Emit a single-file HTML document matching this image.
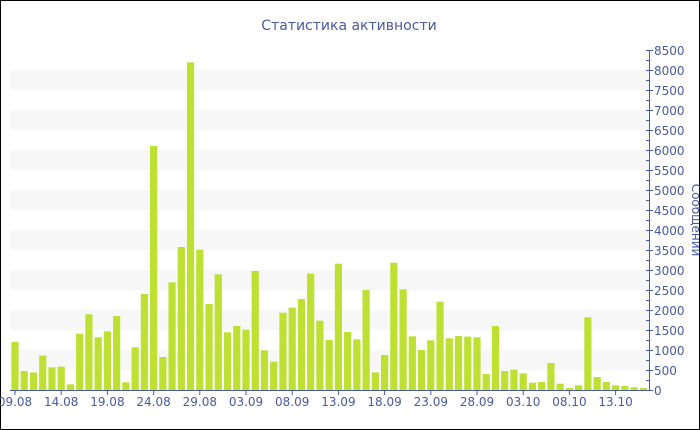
<!DOCTYPE html>
<html><head><meta charset="utf-8"><style>
html,body{margin:0;padding:0;background:#fff}
svg{display:block}
text{font-family:"DejaVu Sans","Liberation Sans",sans-serif;fill:#4a5a9e}
</style></head><body>
<svg width="700" height="430" viewBox="0 0 700 430" xmlns="http://www.w3.org/2000/svg">
<rect x="0.5" y="0.5" width="699" height="429" fill="#fff" stroke="#000"/>
<text x="349" y="30" font-size="14" text-anchor="middle">Статистика активности</text>
<g id="bands" fill="#f7f7f7"></g>
<g id="bars" fill="#bde033"></g>
<g id="axes" stroke="#4a5a9e" stroke-width="1"></g>
<g id="ylab" font-size="12"></g>
<g id="xlab" font-size="12" text-anchor="middle"></g>
<text transform="translate(692,220) rotate(90)" font-size="12" text-anchor="middle">Сообщений</text>
</svg>
<script>
const ns="http://www.w3.org/2000/svg";
function el(p,t,a,txt){const e=document.createElementNS(ns,t);for(const k in a)e.setAttribute(k,a[k]);if(txt!==undefined)e.textContent=txt;document.getElementById(p).appendChild(e);}
const Y=v=>390-v*0.04;
for(let v=500;v<8000;v+=1000){el("bands","rect",{x:10,y:Y(v+500),width:639,height:20});}
const d=[1200,475,440,860,567,583,142,1408,1892,1317,1467,1850,192,1067,2400,6100,825,2692,3575,8192,3508,2150,2892,1442,1600,1508,2975,992,708,1933,2058,2275,2908,1733,1250,3158,1450,1267,2500,442,875,3183,2517,1342,1000,1242,2208,1292,1350,1333,1317,400,1600,475,508,417,183,200,675,158,50,117,1817,325,200,117,100,67,50];
const step=9.24, x0=15;
d.forEach((v,i)=>{const cx=x0+i*step;el("bars","rect",{x:cx-3.6,y:Y(v),width:7.2,height:v*0.04});});
el("axes","line",{x1:10,y1:390.5,x2:650,y2:390.5});
el("axes","line",{x1:649.5,y1:50,x2:649.5,y2:390.5});
for(let v=0;v<=8500;v+=250){const y=Math.round(Y(v))+0.5;const maj=v%500==0;el("axes","line",{x1:646,y1:y,x2:maj?653:649.5,y2:y});if(maj)el("ylab","text",{x:654,y:y+4.5},String(v));}
const labs=["09.08","14.08","19.08","24.08","29.08","03.09","08.09","13.09","18.09","23.09","28.09","03.10","08.10","13.10"];
labs.forEach((l,k)=>{const x=x0+k*5*step;el("axes","line",{x1:x,y1:390,x2:x,y2:395});el("xlab","text",{x:x,y:406},l);});
</script>
</body></html>
